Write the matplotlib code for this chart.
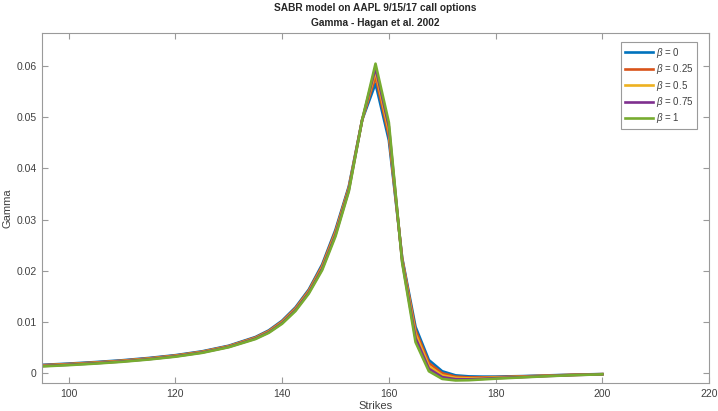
import numpy as np
import matplotlib
matplotlib.use("Agg")
import matplotlib.pyplot as plt

# strikes and gamma per beta
strikes = [95, 100, 105, 110, 115, 120, 125, 130, 135, 137.5, 140, 142.5, 145, 147.5, 150,
           152.5, 155, 157.5, 160, 162.5, 165, 167.5, 170, 172.5, 175, 177.5, 180, 185, 190,
           195, 200]

gamma_b0 = [0.00155, 0.00180, 0.00210, 0.00245, 0.00290, 0.00345, 0.00420, 0.00530, 0.00700,
            0.00830, 0.01020, 0.01280, 0.01630, 0.02120, 0.02800, 0.03650, 0.04950, 0.05660,
            0.04550, 0.02250, 0.00900, 0.00250, 0.00030, -0.00050, -0.00070, -0.00075,
            -0.00075, -0.00065, -0.00050, -0.00035, -0.00025]
gamma_b25 = [0.00148, 0.00172, 0.00202, 0.00237, 0.00282, 0.00337, 0.00412, 0.00522, 0.00690,
             0.00818, 0.01005, 0.01262, 0.01610, 0.02092, 0.02768, 0.03625, 0.04950, 0.05800,
             0.04640, 0.02230, 0.00830, 0.00190, -0.00010, -0.00075, -0.00090, -0.00090,
             -0.00085, -0.00071, -0.00054, -0.00038, -0.00026]
gamma_b50 = [0.00140, 0.00165, 0.00195, 0.00230, 0.00275, 0.00330, 0.00405, 0.00515, 0.00680,
             0.00806, 0.00990, 0.01244, 0.01590, 0.02064, 0.02735, 0.03600, 0.04950, 0.05900,
             0.04730, 0.02200, 0.00760, 0.00130, -0.00050, -0.00100, -0.00110, -0.00105,
             -0.00095, -0.00078, -0.00058, -0.00041, -0.00028]
gamma_b75 = [0.00132, 0.00157, 0.00187, 0.00222, 0.00267, 0.00322, 0.00397, 0.00507, 0.00670,
             0.00794, 0.00975, 0.01226, 0.01570, 0.02036, 0.02702, 0.03575, 0.04950, 0.05970,
             0.04820, 0.02175, 0.00680, 0.00080, -0.00085, -0.00125, -0.00128, -0.00118,
             -0.00105, -0.00084, -0.00062, -0.00043, -0.00029]
gamma_b100 = [0.00125, 0.00150, 0.00180, 0.00215, 0.00260, 0.00315, 0.00390, 0.00500, 0.00660,
              0.00782, 0.00960, 0.01208, 0.01550, 0.02008, 0.02670, 0.03550, 0.04950, 0.06050,
              0.04900, 0.02150, 0.00600, 0.00030, -0.00120, -0.00150, -0.00145, -0.00130,
              -0.00115, -0.00090, -0.00065, -0.00045, -0.00030]

labels = [r"$\beta$ = 0", r"$\beta$ = 0.25", r"$\beta$ = 0.5", r"$\beta$ = 0.75", r"$\beta$ = 1"]
series = [gamma_b0, gamma_b25, gamma_b50, gamma_b75, gamma_b100]
colors = ["#0072BD", "#D95319", "#EDB120", "#7E2F8E", "#77AC30"]

plt.rcParams["font.family"] = ["Liberation Sans", "DejaVu Sans"]
plt.rcParams["mathtext.fontset"] = "custom"
plt.rcParams["mathtext.it"] = "Liberation Sans:italic"

fig = plt.figure(figsize=(7.18, 4.11), dpi=100)
ax = fig.add_axes([0.0585, 0.0681, 0.929, 0.8516])

for g, c, lab in zip(series, colors, labels):
    ax.plot(strikes, g, color=c, lw=1.9, label=lab)

ax.set_xlim(95, 220)
ax.set_ylim(-0.002, 0.0665)
ax.set_xticks(np.arange(100, 221, 20))
ax.set_yticks(np.arange(0, 0.061, 0.01))
ax.set_yticklabels(["0", "0.01", "0.02", "0.03", "0.04", "0.05", "0.06"])

tick_col = "#404040"
for s in ax.spines.values():
    s.set_color("#9a9a9a")
    s.set_linewidth(0.8)
ax.tick_params(direction="in", top=True, right=True, length=4, width=0.8,
               color="#9a9a9a", labelcolor=tick_col, labelsize=7.5, pad=4)

ax.set_xlabel("Strikes", fontsize=8, color=tick_col, labelpad=2)
ax.set_ylabel("Gamma", fontsize=8, color=tick_col)
ax.yaxis.set_label_coords(-0.044, 0.5)
ax.set_title("SABR model on AAPL 9/15/17 call options\nGamma - Hagan et al. 2002",
             fontsize=7.3, fontweight="bold", color="#262626", pad=5, linespacing=1.6)

leg = ax.legend(loc="upper right", bbox_to_anchor=(0.982, 0.975), fontsize=7,
                handlelength=2.9, labelspacing=0.25, borderpad=0.4, handletextpad=0.3,
                fancybox=False, framealpha=1, edgecolor="#9a9a9a", borderaxespad=0)
leg.get_frame().set_linewidth(0.8)
for t in leg.get_texts():
    t.set_color(tick_col)

fig.savefig("out.png", dpi=100)
